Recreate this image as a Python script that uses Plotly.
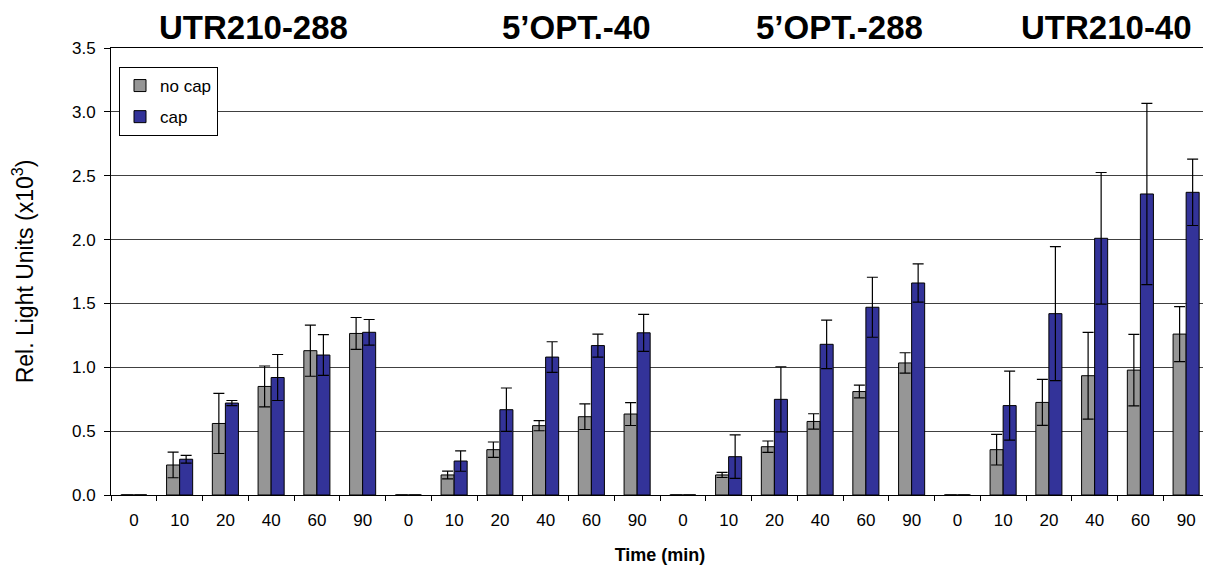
import plotly.graph_objects as go

times = ["0", "10", "20", "40", "60", "90"]
groups = ["UTR210-288", "5’OPT.-40", "5’OPT.-288", "UTR210-40"]

no_cap = [0, 0.235, 0.56, 0.85, 1.13, 1.265,
          0, 0.157, 0.355, 0.543, 0.613, 0.634,
          0, 0.157, 0.378, 0.576, 0.81, 1.034,
          0, 0.355, 0.725, 0.934, 0.978, 1.26]
no_cap_err = [0, 0.10, 0.235, 0.16, 0.20, 0.125,
              0, 0.03, 0.06, 0.04, 0.10, 0.09,
              0, 0.02, 0.045, 0.06, 0.05, 0.08,
              0, 0.12, 0.18, 0.34, 0.28, 0.215]
cap = [0, 0.28, 0.72, 0.92, 1.096, 1.274,
       0, 0.266, 0.668, 1.08, 1.17, 1.27,
       0, 0.30, 0.749, 1.18, 1.47, 1.66,
       0, 0.70, 1.42, 2.01, 2.357, 2.37]
cap_err = [0, 0.03, 0.02, 0.18, 0.16, 0.10,
           0, 0.08, 0.17, 0.12, 0.09, 0.145,
           0, 0.17, 0.255, 0.19, 0.235, 0.15,
           0, 0.27, 0.525, 0.515, 0.71, 0.26]

cats = [f"{g}|{t}" for g in groups for t in times]
tick_text = [t for g in groups for t in times]

# page body has an 8px margin; size the figure so the plot lands where the reference has it
OFF = 8
W, H = 1211 - OFF, 567 - OFF
L, T = 111 - OFF, 48 - OFF
R = W - (1209 - OFF)
B = H - (495 - OFF)
pw = W - L - R
ph = H - T - B

fig = go.Figure()
fig.add_trace(go.Bar(
    x=cats, y=no_cap, name="no cap", legendgroup="a",
    marker=dict(color="#969696", line=dict(color="black", width=1)),
    error_y=dict(type="data", array=no_cap_err, visible=True,
                 color="black", thickness=1.2, width=5.5),
))
fig.add_trace(go.Bar(
    x=cats, y=cap, name="cap", legendgroup="b",
    marker=dict(color="#333399", line=dict(color="black", width=1)),
    error_y=dict(type="data", array=cap_err, visible=True,
                 color="black", thickness=1.2, width=5.5),
))

title_px = [253, 576, 839, 1106]
annotations = []
for g, px in zip(groups, title_px):
    annotations.append(dict(
        text=f"<b>{g}</b>", xref="paper", yref="paper",
        x=(px - 111) / pw, y=1 + (48 - 28) / ph, xanchor="center", yanchor="middle",
        showarrow=False, font=dict(family="Liberation Sans, Arial", size=33, color="black"),
    ))

fig.update_layout(
    width=W, height=H,
    margin=dict(l=L, r=R, t=T, b=B, autoexpand=False),
    paper_bgcolor="white", plot_bgcolor="white",
    barmode="group", bargap=0.43, bargroupgap=0,
    font=dict(family="Liberation Sans, Arial", size=17, color="black"),
    showlegend=True,
    legend=dict(x=(119 - 111) / pw, y=(495 - 67) / ph, xanchor="left", yanchor="top",
                bgcolor="white", bordercolor="black", borderwidth=1,
                font=dict(size=17), itemwidth=30, tracegroupgap=6,
                traceorder="grouped"),
    annotations=annotations,
)
fig.update_xaxes(
    type="category", tickmode="array", tickvals=cats, ticktext=tick_text,
    tickson="boundaries", ticks="outside", ticklen=5, tickcolor="black",
    showline=True, linecolor="black", linewidth=1, mirror=True,
    showgrid=False, ticklabelstandoff=10,
    title=dict(text="<b>Time (min)</b>", font=dict(size=18), standoff=18),
)
fig.update_yaxes(
    range=[0, 3.5], dtick=0.5, tickformat=".1f",
    ticks="outside", ticklen=6, tickcolor="black",
    showline=True, linecolor="black", linewidth=1, mirror=True,
    showgrid=True, gridcolor="#404040", gridwidth=1, zeroline=False,
    ticklabelstandoff=5,
    title=dict(text="Rel. Light Units (x10<sup>3</sup>)", font=dict(size=23), standoff=38),
)

fig.write_html("out.html")
